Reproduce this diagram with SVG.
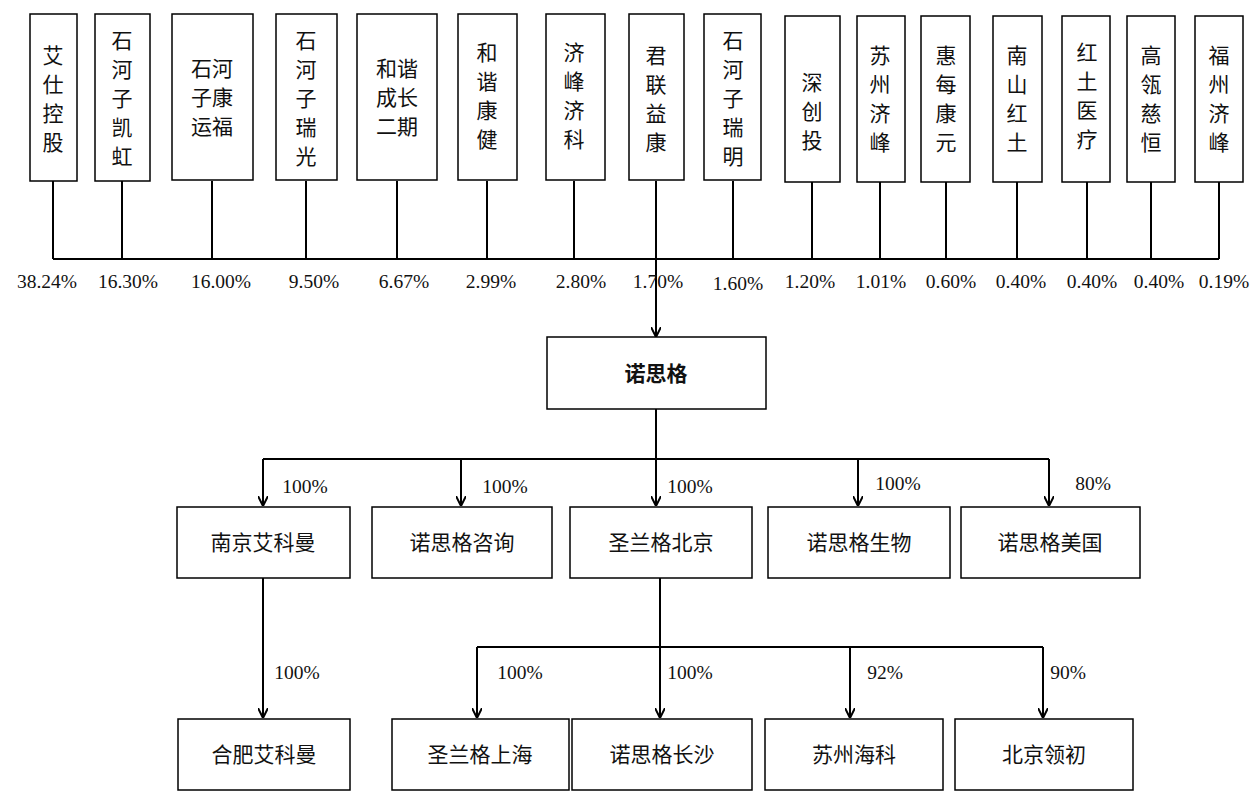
<svg xmlns="http://www.w3.org/2000/svg" width="1258" height="804" viewBox="0 0 1258 804">
<style>
rect{fill:#fff;stroke:#000;stroke-width:1.5}
.v{font-family:"Noto Sans CJK SC",sans-serif;font-size:21px;text-anchor:middle;fill:#111}
.n{font-family:"Noto Sans CJK SC",sans-serif;font-size:21px;text-anchor:middle;fill:#111}
.p{font-family:"Liberation Serif",serif;font-size:19.5px;text-anchor:middle;fill:#111}
.c line,.c path{stroke:#000;stroke-width:2;fill:none}
</style>
<defs><marker id="a" markerWidth="10" markerHeight="10" refX="9" refY="5" orient="auto" markerUnits="userSpaceOnUse"><path d="M0,0 L10,5 L0,10" fill="none" stroke="#000" stroke-width="2"/></marker></defs>
<g class="c">
<line x1="53" y1="259" x2="1219" y2="259"/>
<line x1="53" y1="181" x2="53" y2="259"/><line x1="122" y1="181" x2="122" y2="259"/><line x1="212" y1="181" x2="212" y2="259"/><line x1="306" y1="181" x2="306" y2="259"/><line x1="397" y1="181" x2="397" y2="259"/><line x1="487" y1="181" x2="487" y2="259"/><line x1="574" y1="181" x2="574" y2="259"/><line x1="656" y1="181" x2="656" y2="259"/><line x1="733" y1="181" x2="733" y2="259"/><line x1="812" y1="181" x2="812" y2="259"/><line x1="880" y1="181" x2="880" y2="259"/><line x1="946" y1="181" x2="946" y2="259"/><line x1="1017" y1="181" x2="1017" y2="259"/><line x1="1087" y1="181" x2="1087" y2="259"/><line x1="1151" y1="181" x2="1151" y2="259"/><line x1="1219" y1="181" x2="1219" y2="259"/>
<line x1="656" y1="259" x2="656" y2="336" marker-end="url(#a)"/>
<line x1="656" y1="409" x2="656" y2="459"/>
<line x1="263" y1="459" x2="1049" y2="459"/>
<line x1="263" y1="459" x2="263" y2="505" marker-end="url(#a)"/><line x1="461" y1="459" x2="461" y2="505" marker-end="url(#a)"/><line x1="656" y1="459" x2="656" y2="505" marker-end="url(#a)"/><line x1="858" y1="459" x2="858" y2="505" marker-end="url(#a)"/><line x1="1049" y1="459" x2="1049" y2="505" marker-end="url(#a)"/>
<line x1="263" y1="578" x2="263" y2="717" marker-end="url(#a)"/>
<line x1="660" y1="578" x2="660" y2="647"/>
<line x1="477" y1="647" x2="1043" y2="647"/>
<line x1="477" y1="647" x2="477" y2="717" marker-end="url(#a)"/><line x1="660" y1="647" x2="660" y2="717" marker-end="url(#a)"/><line x1="850" y1="647" x2="850" y2="717" marker-end="url(#a)"/><line x1="1043" y1="647" x2="1043" y2="717" marker-end="url(#a)"/>
</g>
<g id="t1"><rect x="30" y="14" width="47" height="167"/><text class="v"><tspan x="53" y="63">艾</tspan><tspan x="53" y="92">仕</tspan><tspan x="53" y="121">控</tspan><tspan x="53" y="150">股</tspan></text></g>
<g id="t2"><rect x="95" y="14" width="55" height="167"/><text class="v"><tspan x="122" y="48">石</tspan><tspan x="122" y="77">河</tspan><tspan x="122" y="106">子</tspan><tspan x="122" y="135">凯</tspan><tspan x="122" y="164">虹</tspan></text></g>
<g id="t3"><rect x="172" y="14" width="81" height="166"/><text class="v"><tspan x="212" y="76">石河</tspan><tspan x="212" y="105">子康</tspan><tspan x="212" y="134">运福</tspan></text></g>
<g id="t4"><rect x="276" y="14" width="61" height="166"/><text class="v"><tspan x="306" y="48">石</tspan><tspan x="306" y="77">河</tspan><tspan x="306" y="106">子</tspan><tspan x="306" y="135">瑞</tspan><tspan x="306" y="164">光</tspan></text></g>
<g id="t5"><rect x="357" y="14" width="80" height="166"/><text class="v"><tspan x="397" y="76">和谐</tspan><tspan x="397" y="105">成长</tspan><tspan x="397" y="134">二期</tspan></text></g>
<g id="t6"><rect x="458" y="14" width="59" height="166"/><text class="v"><tspan x="487" y="60">和</tspan><tspan x="487" y="89">谐</tspan><tspan x="487" y="118">康</tspan><tspan x="487" y="147">健</tspan></text></g>
<g id="t7"><rect x="546" y="14" width="59" height="166"/><text class="v"><tspan x="574" y="60">济</tspan><tspan x="574" y="89">峰</tspan><tspan x="574" y="118">济</tspan><tspan x="574" y="147">科</tspan></text></g>
<g id="t8"><rect x="629" y="14" width="55" height="166"/><text class="v"><tspan x="656" y="63">君</tspan><tspan x="656" y="92">联</tspan><tspan x="656" y="121">益</tspan><tspan x="656" y="150">康</tspan></text></g>
<g id="t9"><rect x="704" y="14" width="57" height="166"/><text class="v"><tspan x="733" y="48">石</tspan><tspan x="733" y="77">河</tspan><tspan x="733" y="106">子</tspan><tspan x="733" y="135">瑞</tspan><tspan x="733" y="164">明</tspan></text></g>
<g id="t10"><rect x="785" y="16" width="55" height="166"/><text class="v"><tspan x="812" y="90">深</tspan><tspan x="812" y="119">创</tspan><tspan x="812" y="148">投</tspan></text></g>
<g id="t11"><rect x="857" y="16" width="48" height="166"/><text class="v"><tspan x="880" y="63">苏</tspan><tspan x="880" y="92">州</tspan><tspan x="880" y="121">济</tspan><tspan x="880" y="150">峰</tspan></text></g>
<g id="t12"><rect x="921" y="16" width="49" height="166"/><text class="v"><tspan x="946" y="63">惠</tspan><tspan x="946" y="92">每</tspan><tspan x="946" y="121">康</tspan><tspan x="946" y="150">元</tspan></text></g>
<g id="t13"><rect x="993" y="16" width="49" height="166"/><text class="v"><tspan x="1017" y="63">南</tspan><tspan x="1017" y="92">山</tspan><tspan x="1017" y="121">红</tspan><tspan x="1017" y="150">土</tspan></text></g>
<g id="t14"><rect x="1062" y="16" width="48" height="166"/><text class="v"><tspan x="1087" y="60">红</tspan><tspan x="1087" y="89">土</tspan><tspan x="1087" y="118">医</tspan><tspan x="1087" y="147">疗</tspan></text></g>
<g id="t15"><rect x="1127" y="16" width="48" height="166"/><text class="v"><tspan x="1151" y="63">高</tspan><tspan x="1151" y="92">瓴</tspan><tspan x="1151" y="121">慈</tspan><tspan x="1151" y="150">恒</tspan></text></g>
<g id="t16"><rect x="1195" y="16" width="48" height="166"/><text class="v"><tspan x="1219" y="63">福</tspan><tspan x="1219" y="92">州</tspan><tspan x="1219" y="121">济</tspan><tspan x="1219" y="150">峰</tspan></text></g>
<g id="pct" class="p">
<text x="47" y="288">38.24%</text><text x="128" y="288">16.30%</text><text x="221" y="288">16.00%</text><text x="314" y="288">9.50%</text><text x="404" y="288">6.67%</text><text x="491" y="288">2.99%</text><text x="581" y="288">2.80%</text><text x="658" y="288">1.70%</text><text x="738" y="290">1.60%</text><text x="810" y="288">1.20%</text><text x="881" y="288">1.01%</text><text x="951" y="288">0.60%</text><text x="1021" y="288">0.40%</text><text x="1092" y="288">0.40%</text><text x="1159" y="288">0.40%</text><text x="1224" y="288">0.19%</text>
<text x="305" y="493">100%</text><text x="505" y="493">100%</text><text x="690" y="493">100%</text><text x="898" y="490">100%</text><text x="1093" y="490">80%</text>
<text x="297" y="679">100%</text><text x="520" y="679">100%</text><text x="690" y="679">100%</text><text x="885" y="679">92%</text><text x="1068" y="679">90%</text>
</g>
<g id="nsg"><rect x="547" y="337" width="219" height="72"/><text class="n" x="656" y="381" font-weight="bold">诺思格</text></g>
<g id="b1"><rect x="177" y="507" width="173" height="71"/><text class="n" x="263" y="550">南京艾科曼</text></g>
<g id="b2"><rect x="372" y="507" width="180" height="71"/><text class="n" x="462" y="550">诺思格咨询</text></g>
<g id="b3"><rect x="570" y="507" width="182" height="71"/><text class="n" x="661" y="550">圣兰格北京</text></g>
<g id="b4"><rect x="768" y="507" width="182" height="71"/><text class="n" x="859" y="550">诺思格生物</text></g>
<g id="b5"><rect x="961" y="507" width="179" height="71"/><text class="n" x="1050" y="550">诺思格美国</text></g>
<g id="c1"><rect x="178" y="719" width="172" height="71"/><text class="n" x="264" y="762">合肥艾科曼</text></g>
<g id="c2"><rect x="392" y="719" width="177" height="71"/><text class="n" x="480" y="762">圣兰格上海</text></g>
<g id="c3"><rect x="572" y="719" width="180" height="71"/><text class="n" x="662" y="762">诺思格长沙</text></g>
<g id="c4"><rect x="765" y="719" width="178" height="71"/><text class="n" x="854" y="762">苏州海科</text></g>
<g id="c5"><rect x="955" y="719" width="178" height="71"/><text class="n" x="1044" y="762">北京领初</text></g>
</svg>
